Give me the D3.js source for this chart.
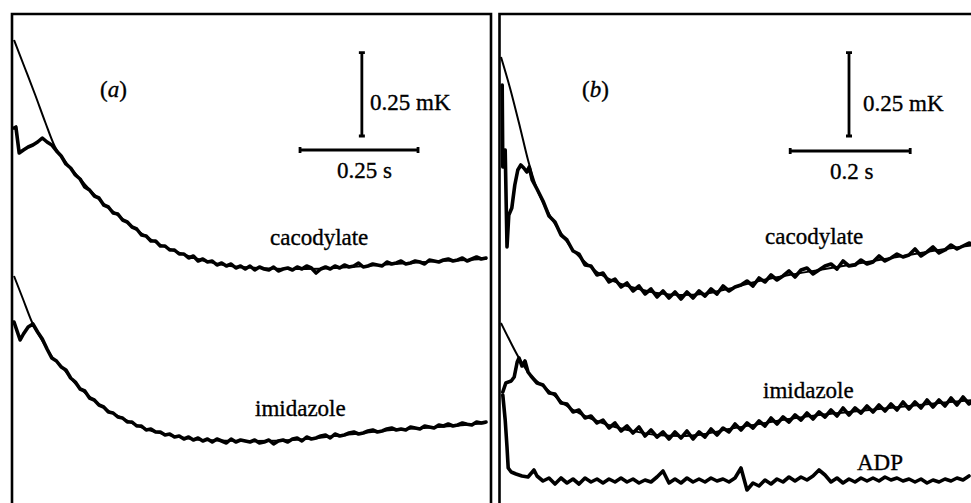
<!DOCTYPE html>
<html>
<head>
<meta charset="utf-8">
<script src="https://cdn.jsdelivr.net/npm/d3@7"></script>
<style>
  body { margin: 0; background: #fff; }
  svg { display: block; }
  text { font-family: "Liberation Serif", "Times New Roman", serif; fill: #000; stroke: #000; stroke-width: 0.35; }
</style>
</head>
<body>
<svg id="fig" width="971" height="503"></svg>
<script>
// ---- data: time in s, temperature in mK (traces are offset) ----
var dt = 0.01;

// panel (a)
var aCacoLead = [[0, 1.125], [0.004, 1.128], [0.011, 1.050]];
var aCacoVals = [ // from t = 0.02
  1.059,1.068,1.074,1.083,1.095,1.083,1.074,1.056,1.041,1.017,
  1.005,0.984,0.972,0.948,0.939,0.921,0.915,0.894,0.888,0.870,
  0.867,0.849,0.843,0.828,0.822,0.804,0.801,0.786,0.786,0.771,
  0.771,0.759,0.759,0.747,0.747,0.735,0.741,0.726,0.732,0.723,
  0.726,0.714,0.720,0.711,0.717,0.705,0.711,0.702,0.711,0.699,
  0.708,0.702,0.699,0.708,0.696,0.702,0.705,0.699,0.708,0.702,
  0.711,0.705,0.690,0.702,0.708,0.702,0.711,0.705,0.714,0.708,
  0.711,0.720,0.708,0.711,0.717,0.714,0.711,0.723,0.717,0.720,
  0.726,0.717,0.720,0.726,0.723,0.717,0.729,0.726,0.723,0.729,
  0.732,0.726,0.729,0.735,0.726,0.732,0.738,0.732,0.735];
var aCacoFit = [[0,1.389],[0.023,1.305],[0.045,1.224],[0.066,1.143],[0.087,1.068],
  [0.108,1.026],[0.129,0.990],[0.157,0.945],[0.193,0.894],[0.225,0.858],[0.263,0.816],
  [0.299,0.783],[0.335,0.759],[0.369,0.741],[0.405,0.726],[0.458,0.711],[0.521,0.705],
  [0.585,0.702],[0.648,0.703],[0.712,0.708],[0.775,0.714],[0.839,0.720],[0.903,0.726],
  [0.966,0.730],[1.002,0.733]];

var aImidLead = [[0, 0.543], [0.013, 0.489], [0.02, 0.507]];
var aImidVals = [ // from t = 0.03
  0.528,0.537,0.513,0.492,0.462,0.435,0.426,0.408,0.399,0.375,
  0.363,0.342,0.336,0.315,0.309,0.294,0.288,0.273,0.270,0.258,
  0.255,0.243,0.243,0.231,0.231,0.219,0.222,0.213,0.213,0.204,
  0.207,0.198,0.201,0.192,0.198,0.189,0.195,0.186,0.192,0.183,
  0.192,0.186,0.180,0.192,0.183,0.189,0.186,0.183,0.189,0.180,
  0.183,0.189,0.177,0.186,0.189,0.183,0.192,0.195,0.186,0.198,
  0.192,0.195,0.201,0.204,0.195,0.207,0.201,0.204,0.210,0.213,
  0.207,0.210,0.216,0.219,0.213,0.216,0.222,0.225,0.219,0.222,
  0.219,0.228,0.225,0.222,0.231,0.228,0.225,0.234,0.231,0.237,
  0.231,0.234,0.240,0.236,0.234,0.243,0.240,0.243];
var aImidFit = [[0,0.681],[0.019,0.612],[0.038,0.543],[0.059,0.489],[0.081,0.438],
  [0.100,0.411],[0.129,0.360],[0.161,0.318],[0.191,0.285],[0.220,0.261],[0.250,0.240],
  [0.280,0.222],[0.309,0.210],[0.350,0.198],[0.400,0.189],[0.5,0.186],[0.6,0.190],
  [0.7,0.204],[0.8,0.219],[0.9,0.228],[1.0,0.240]];

// panel (b)
var bCacoLead = [[0.002,1.254],[0.003,1.008],[0.007,1.059],[0.010,0.768],[0.013,0.864],
  [0.018,0.885],[0.023,0.954],[0.028,0.999],[0.033,1.014],[0.038,1.005],[0.043,0.993],
  [0.047,1.008],[0.052,0.969]];
var bCacoVals = [ // from t = 0.06
  0.942,0.906,0.861,0.843,0.804,0.789,0.756,0.747,0.714,0.711,
  0.684,0.690,0.663,0.672,0.648,0.660,0.636,0.651,0.627,0.642,
  0.618,0.636,0.615,0.633,0.612,0.633,0.615,0.636,0.621,0.642,
  0.627,0.651,0.636,0.648,0.654,0.666,0.651,0.675,0.663,0.684,
  0.669,0.681,0.696,0.678,0.699,0.705,0.687,0.699,0.711,0.717,
  0.702,0.726,0.711,0.714,0.729,0.717,0.723,0.741,0.726,0.735,
  0.747,0.738,0.744,0.762,0.741,0.753,0.768,0.750,0.759,0.774,
  0.762,0.771,0.780,0.774];
var bCacoFit = [[0,1.338],[0.015,1.245],[0.032,1.125],[0.045,1.029],[0.06,0.942],
  [0.08,0.867],[0.1,0.810],[0.12,0.759],[0.14,0.723],[0.16,0.693],[0.18,0.672],
  [0.2,0.657],[0.23,0.642],[0.26,0.630],[0.3,0.624],[0.34,0.628],[0.38,0.643],
  [0.43,0.666],[0.48,0.684],[0.53,0.699],[0.58,0.714],[0.63,0.729],[0.68,0.744],
  [0.73,0.759],[0.79,0.774]];

var bImidLead = [[0.003,0.333],[0.008,0.360],[0.017,0.366],[0.022,0.378],[0.027,0.423],
  [0.030,0.435],[0.035,0.411],[0.040,0.426],[0.045,0.393],[0.050,0.381]];
var bImidVals = [ // from t = 0.06
  0.360,0.354,0.330,0.327,0.300,0.297,0.273,0.279,0.255,0.261,
  0.240,0.249,0.225,0.240,0.216,0.231,0.210,0.228,0.201,0.219,
  0.198,0.213,0.192,0.213,0.195,0.216,0.192,0.213,0.198,0.222,
  0.204,0.225,0.213,0.237,0.219,0.240,0.225,0.246,0.231,0.255,
  0.237,0.258,0.243,0.264,0.249,0.270,0.252,0.273,0.258,0.279,
  0.261,0.285,0.264,0.285,0.270,0.291,0.273,0.294,0.276,0.297,
  0.279,0.303,0.282,0.303,0.285,0.309,0.288,0.309,0.291,0.315,
  0.294,0.318,0.297,0.309];
var bImidFit = [[0,0.540],[0.015,0.486],[0.03,0.435],[0.05,0.381],[0.07,0.351],
  [0.09,0.321],[0.11,0.291],[0.13,0.270],[0.16,0.246],[0.19,0.228],[0.22,0.216],
  [0.26,0.204],[0.3,0.201],[0.34,0.207],[0.38,0.222],[0.43,0.237],[0.48,0.252],
  [0.53,0.264],[0.58,0.273],[0.63,0.282],[0.68,0.291],[0.73,0.300],[0.79,0.309]];

var bAdpLead = [[0.003,0.324],[0.007,0.249],[0.010,0.168],[0.012,0.105],[0.017,0.093],
  [0.025,0.087],[0.035,0.081],[0.045,0.078],[0.055,0.099]];
var bAdpVals = [ // from t = 0.06
  0.081,0.066,0.075,0.057,0.075,0.060,0.072,0.057,0.075,0.063,
  0.072,0.060,0.072,0.063,0.075,0.063,0.072,0.060,0.069,0.063,
  0.078,0.096,0.060,0.072,0.060,0.075,0.063,0.072,0.063,0.075,
  0.066,0.072,0.063,0.075,0.105,0.039,0.060,0.051,0.069,0.057,
  0.072,0.063,0.078,0.066,0.078,0.069,0.081,0.099,0.084,0.063,
  0.075,0.060,0.072,0.063,0.075,0.066,0.075,0.066,0.078,0.069,
  0.075,0.066,0.072,0.063,0.072,0.060,0.069,0.063,0.072,0.066,
  0.075,0.069,0.081];

// scale bars [seconds, mK]
var aBar = {s: 0.25, mK: 0.25, sLabel: "0.25 s", kLabel: "0.25 mK"};
var bBar = {s: 0.2, mK: 0.25, sLabel: "0.2 s", kLabel: "0.25 mK"};

function series(lead, t0, vals) {
  return lead.concat(vals.map(function(v, i) { return [t0 + i * dt, v]; }));
}

var svg = d3.select("#fig");
var y = d3.scaleLinear().domain([0, 1.5]).range([503, 3]);
var xA = d3.scaleLinear().domain([0, 1]).range([14, 486]);
var xB = d3.scaleLinear().domain([0, 0.78]).range([501, 969]);

function drawPanel(x, o) {
  var g = svg.append("g");
  var line = d3.line().x(function(d) { return x(d[0]); }).y(function(d) { return y(d[1]); });
  var smooth = d3.line().curve(d3.curveMonotoneX)
      .x(function(d) { return x(d[0]); }).y(function(d) { return y(d[1]); });

  // frame (open at the bottom)
  g.append("path")
    .attr("d", "M" + o.left + "," + y(0) + "V" + y(1.467) + "H" + o.right + (o.rightSide ? "V" + y(0) : ""))
    .attr("fill", "none").attr("stroke", "#000").attr("stroke-width", 2.6);

  o.fits.forEach(function(f) {
    g.append("path").attr("d", smooth(f)).attr("fill", "none")
      .attr("stroke", "#000").attr("stroke-width", 2);
  });
  o.traces.forEach(function(tr) {
    g.append("path").attr("d", line(tr)).attr("fill", "none")
      .attr("stroke", "#000").attr("stroke-width", 3.6)
      .attr("stroke-linejoin", "round").attr("stroke-linecap", "round");
  });

  // scale bars
  var b = o.bar, cap = 3;
  var hx0 = x(b.ht), hx1 = x(b.ht + b.bar.s), hy = y(b.hv);
  var vx = x(b.vt), vy0 = y(b.vv), vy1 = y(b.vv + b.bar.mK);
  g.append("path")
    .attr("d", "M" + hx0 + "," + hy + "H" + hx1 +
               "M" + hx0 + "," + (hy - cap) + "V" + (hy + cap) +
               "M" + hx1 + "," + (hy - cap) + "V" + (hy + cap) +
               "M" + vx + "," + vy0 + "V" + vy1 +
               "M" + (vx - cap) + "," + vy0 + "H" + (vx + cap) +
               "M" + (vx - cap) + "," + vy1 + "H" + (vx + cap))
    .attr("fill", "none").attr("stroke", "#000").attr("stroke-width", 2.8);

  o.labels.forEach(function(l) {
    var t = g.append("text").attr("x", l.x).attr("y", l.y).attr("font-size", 23);
    if (l.italic) {
      t.append("tspan").text("(");
      t.append("tspan").attr("font-style", "italic").text(l.italic);
      t.append("tspan").text(")");
    } else {
      t.text(l.text);
    }
  });
}

drawPanel(xA, {
  left: 12, right: 491, rightSide: true,
  fits: [aCacoFit, aImidFit],
  traces: [series(aCacoLead, 0.02, aCacoVals), series(aImidLead, 0.03, aImidVals)],
  bar: {bar: aBar, ht: 0.606, hv: 1.059, vt: 0.737, vv: 1.101},
  labels: [
    {italic: "a", x: 100, y: 97},
    {text: aBar.kLabel, x: 370, y: 110},
    {text: aBar.sLabel, x: 337, y: 178},
    {text: "cacodylate", x: 270, y: 245},
    {text: "imidazole", x: 255, y: 416}
  ]
});

drawPanel(xB, {
  left: 499.5, right: 971, rightSide: false,
  fits: [bCacoFit, bImidFit],
  traces: [series(bCacoLead, 0.06, bCacoVals), series(bImidLead, 0.06, bImidVals), series(bAdpLead, 0.06, bAdpVals)],
  bar: {bar: bBar, ht: 0.482, hv: 1.056, vt: 0.58, vv: 1.101},
  labels: [
    {italic: "b", x: 582, y: 97},
    {text: bBar.kLabel, x: 863, y: 111},
    {text: bBar.sLabel, x: 830, y: 179},
    {text: "cacodylate", x: 765, y: 244},
    {text: "imidazole", x: 763, y: 398},
    {text: "ADP", x: 857, y: 470}
  ]
});
</script>
</body>
</html>
